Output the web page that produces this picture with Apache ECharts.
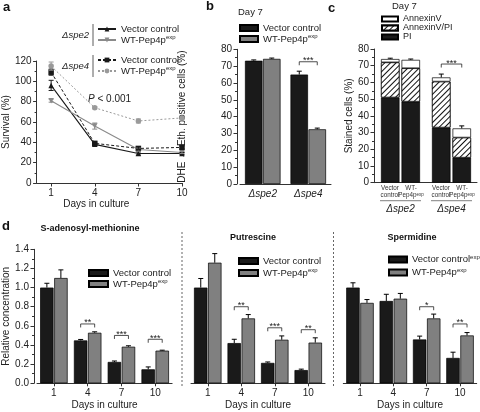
<!DOCTYPE html>
<html><head><meta charset="utf-8">
<script src="https://cdn.jsdelivr.net/npm/echarts@6/dist/echarts.min.js"></script>
<style>html,body{margin:0;padding:0;background:#fff}#c{width:480px;height:412px}</style>
</head><body><div id="c"></div><script>
// ---------- DATA ----------
// Panel a: survival (%) vs days in culture
const days = [1, 4, 7, 10];
const survSpe2Vc = [96, 38, 29, 29];
const survSpe2VcErr = [5, 1.5, 1.5, 1];
const survSpe2Wt = [81, 56, 33, 30];
const survSpe2WtErr = [1.5, 3, 1.5, 1];
const survSpe4Vc = [109, 39, 34, 35];
const survSpe4VcErr = [3, 1.5, 1.5, 1.5];
const survSpe4Wt = [115, 74, 61, 64];
const survSpe4WtErr = [4, 1, 2, 1.5];
const survTicks = [1, 4, 7, 10];

// Panel b: DHE -> Eth positive cells, day 7
const strainCats = ['Δspe2', 'Δspe4'];
const dheVc = [73.2, 65];
const dheVcErr = [0.5, 2];
const dheWt = [74.3, 32.5];
const dheWtErr = [0.5, 0.7];
const dheSig = ['', '***'];
const dheSigTop = [0, 72.6];

// Panel c: stained cells, day 7 (per strain: vector control, WT-Pep4p)
const stainVcPI = [51, 33];
const stainVcAVPI = [21, 27.5];
const stainVcAV = [2, 2.5];
const stainVcErr = [0.5, 2];
const stainWtPI = [48.5, 15];
const stainWtAVPI = [20, 12];
const stainWtAV = [5, 5.5];
const stainWtErr = [0.5, 1.5];
const stainSig = ['', '***'];
const stainSigTop = [0, 71];
const stainBarLabels = ['Vector\ncontrol', 'WT-\nPep4p{sup|exp}', 'Vector\ncontrol', 'WT-\nPep4p{sup|exp}'];
const stainBarGroup = [0, 0, 1, 1];

// Panel d: relative concentrations
const dayCats = ['1', '4', '7', '10'];
const samVc = [1.0, 0.448, 0.223, 0.146];
const samVcErr = [0.045, 0.01, 0.01, 0.025];
const samWt = [1.10, 0.528, 0.382, 0.341];
const samWtErr = [0.085, 0.01, 0.01, 0.005];
const samSig = ['', '**', '***', '***'];
const samSigTop = [0, 0.62, 0.50, 0.46];

const putVc = [1.0, 0.42, 0.213, 0.138];
const putVcErr = [0.095, 0.04, 0.01, 0.01];
const putWt = [1.26, 0.678, 0.455, 0.425];
const putWtErr = [0.095, 0.04, 0.04, 0.05];
const putSig = ['', '**', '***', '**'];
const putSigTop = [0, 0.80, 0.58, 0.56];

const sperVc = [1.0, 0.86, 0.458, 0.265];
const sperVcErr = [0.05, 0.07, 0.035, 0.06];
const sperWt = [0.84, 0.884, 0.678, 0.5];
const sperWtErr = [0.035, 0.055, 0.045, 0.03];
const sperSig = ['', '', '*', '**'];
const sperSigTop = [0, 0, 0.80, 0.62];

// ---------- STYLE ----------
const FONT = '"Liberation Sans", Arial, Helvetica, sans-serif';
const BLACK = '#1a1a1a', GRAY = '#808080', AX = '#333', TXT = '#222';
const LGRAY = '#8a8a8a', LGRAY2 = '#9a9a9a';
const rich = {
  t: {fontSize: 9.5, fontFamily: FONT, color: TXT},
  sup: {fontSize: 6, fontFamily: FONT, color: TXT, verticalAlign: 'top'}
};
const legendLabels = {
  s2vc: '{t|Vector control}', s2wt: '{t|WT-Pep4p}{sup|exp}',
  s4vc: '{t|Vector control}', s4wt: '{t|WT-Pep4p}{sup|exp}',
  bVc: '{t|Vector control}', bWt: '{t|WT-Pep4p}{sup|exp}',
  samVc: '{t|Vector control}', samWt: '{t|WT-Pep4p}{sup|exp}',
  putVc: '{t|Vector control}', putWt: '{t|WT-Pep4p}{sup|exp}',
  sperVc: '{t|Vector control}{sup|exp}', sperWt: '{t|WT-Pep4p}{sup|exp}',
  AnnexinV: '{t|AnnexinV}', 'AnnexinV/PI': '{t|AnnexinV/PI}', PI: '{t|PI}'
};
const idx4 = [0, 1, 2, 3], idx2 = [0, 1];

function zip(xs, ys) { return ys.map((v, i) => [xs[i], v]); }

function errS(ai, xs, vals, errs, off, color, two) {
  return {
    type: 'custom', xAxisIndex: ai, yAxisIndex: ai, z: 6, silent: true, clip: false,
    data: vals.map((v, i) => [xs[i], v, errs[i]]),
    encode: {x: 0, y: 1},
    renderItem(params, api) {
      const x0 = api.value(0), v = api.value(1), e = api.value(2);
      const p = api.coord([x0, v]), pt = api.coord([x0, v + e]);
      const pb = two ? api.coord([x0, v - e]) : p;
      const x = p[0] + off, cw = 2.5;
      const st = {stroke: color, lineWidth: 1};
      const ch = [
        {type: 'line', shape: {x1: x, y1: pb[1], x2: x, y2: pt[1]}, style: st},
        {type: 'line', shape: {x1: x - cw, y1: pt[1], x2: x + cw, y2: pt[1]}, style: st}
      ];
      if (two) ch.push({type: 'line', shape: {x1: x - cw, y1: pb[1], x2: x + cw, y2: pb[1]}, style: st});
      return {type: 'group', children: ch};
    }
  };
}

function sigS(ai, tops, labels, off) {
  const ids = labels.map((l, i) => l ? i : -1).filter(i => i >= 0);
  return {
    type: 'custom', xAxisIndex: ai, yAxisIndex: ai, z: 6, silent: true, clip: false,
    data: ids.map(i => [i, tops[i]]),
    encode: {x: 0, y: 1},
    renderItem(params, api) {
      const i = ids[params.dataIndex];
      const p = api.coord([api.value(0), api.value(1)]);
      const x1 = p[0] - off, x2 = p[0] + off, y = p[1], tk = 3.5;
      return {type: 'group', children: [
        {type: 'polyline', shape: {points: [[x1, y + tk], [x1, y], [x2, y], [x2, y + tk]]},
          style: {stroke: '#222', lineWidth: 0.8, fill: null}},
        {type: 'text', style: {text: labels[i], x: (x1 + x2) / 2, y: y + 3.5, align: 'center',
          verticalAlign: 'bottom', fontSize: 9, fontFamily: FONT, fill: '#222'}}
      ]};
    }
  };
}

function barS(name, ai, vals, color, w, gap, extra) {
  return Object.assign({
    type: 'bar', name, xAxisIndex: ai, yAxisIndex: ai, data: vals, barWidth: w, barGap: gap,
    itemStyle: {color, borderColor: '#000', borderWidth: 0.7}, emphasis: {disabled: true}
  }, extra || {});
}

function lineS(name, vals, color, symbol, dash, w) {
  return {
    type: 'line', name, xAxisIndex: 0, yAxisIndex: 0, data: zip(days, vals),
    symbol, symbolSize: 5.5,
    lineStyle: {color, width: w || 1, type: dash || 'solid'},
    itemStyle: {color}, emphasis: {disabled: true}, z: 4
  };
}

const axLine = {show: true, lineStyle: {color: AX, width: 1}};
const lblStyle = {fontSize: 10, color: TXT, fontFamily: FONT};
function yAx(gi, max, interval, extra) {
  return Object.assign({
    gridIndex: gi, type: 'value', min: 0, max, interval,
    axisLine: axLine, axisTick: {show: true, length: 3.5, lineStyle: {color: AX}},
    minorTick: {show: true, splitNumber: 2, length: 2, lineStyle: {color: AX}},
    splitLine: {show: false}, axisLabel: Object.assign({margin: 5}, lblStyle),
    nameLocation: 'middle', nameTextStyle: {fontSize: 10, color: TXT, fontFamily: FONT}
  }, extra || {});
}
function legend(items, left, top, gap, extra) {
  return Object.assign({
    data: items, left, top, orient: 'vertical', padding: 0, itemGap: gap,
    itemWidth: 18, itemHeight: 6, selectedMode: false,
    formatter: n => legendLabels[n],
    textStyle: {rich, lineHeight: 11, fontSize: 9.5, fontFamily: FONT, color: TXT}
  }, extra || {});
}

const hatch = {
  color: '#fff', borderColor: '#000', borderWidth: 0.7,
  decal: {symbol: 'rect', symbolSize: 1, dashArrayX: [1, 0], dashArrayY: [0.8, 2.6],
    rotation: -Math.PI / 4, color: '#111', backgroundColor: '#fff'}
};

const option = {
  animation: false,
  textStyle: {fontFamily: FONT},
  grid: [
    {left: 33, top: 61, width: 149, height: 122},
    {left: 240, top: 49.3, width: 91, height: 134.7},
    {left: 375, top: 49, width: 102, height: 133.7},
    {left: 36.5, top: 249.3, width: 135.6, height: 134},
    {left: 191, top: 249.3, width: 134, height: 134},
    {left: 343.3, top: 249.3, width: 133.4, height: 134}
  ],
  xAxis: [
    {gridIndex: 0, type: 'value', min: 0, max: 10, axisLine: axLine,
      axisTick: {show: true, length: 3.5, customValues: survTicks, lineStyle: {color: AX}},
      axisLabel: Object.assign({margin: 5, customValues: survTicks}, lblStyle),
      splitLine: {show: false}, name: 'Days in culture', nameLocation: 'middle', nameGap: 15,
      nameTextStyle: {fontSize: 10, color: TXT, fontFamily: FONT, padding: [0, 26, 0, 0]}},
    {gridIndex: 1, type: 'category', data: strainCats, axisLine: axLine, axisTick: {show: false},
      axisLabel: Object.assign({margin: 5, fontStyle: 'italic'}, lblStyle)},
    {gridIndex: 2, type: 'category', data: strainCats, axisLine: axLine, axisTick: {show: false},
      axisLabel: Object.assign({margin: 22, fontStyle: 'italic'}, lblStyle)},
    {gridIndex: 3, type: 'category', data: dayCats, axisLine: axLine,
      axisTick: {show: true, alignWithLabel: true, length: 3, lineStyle: {color: AX}},
      axisLabel: Object.assign({margin: 5}, lblStyle),
      name: 'Days in culture', nameLocation: 'middle', nameGap: 17,
      nameTextStyle: {fontSize: 10, color: TXT, fontFamily: FONT}},
    {gridIndex: 4, type: 'category', data: dayCats, axisLine: axLine,
      axisTick: {show: true, alignWithLabel: true, length: 3, lineStyle: {color: AX}},
      axisLabel: Object.assign({margin: 5}, lblStyle),
      name: 'Days in culture', nameLocation: 'middle', nameGap: 17,
      nameTextStyle: {fontSize: 10, color: TXT, fontFamily: FONT}},
    {gridIndex: 5, type: 'category', data: dayCats, axisLine: axLine,
      axisTick: {show: true, alignWithLabel: true, length: 3, lineStyle: {color: AX}},
      axisLabel: Object.assign({margin: 5}, lblStyle),
      name: 'Days in culture', nameLocation: 'middle', nameGap: 17,
      nameTextStyle: {fontSize: 10, color: TXT, fontFamily: FONT}}
  ],
  yAxis: [
    yAx(0, 120, 20, {name: 'Survival (%)', nameGap: 22}),
    yAx(1, 80, 10, {offset: 3, name: 'DHE \u2192 Eth. positive cells (%)', nameGap: 50}),
    yAx(2, 80, 10, {offset: 1, name: 'Stained cells (%)', nameGap: 20}),
    yAx(3, 1.4, 0.2, {offset: 3, name: 'Relative concentration', nameGap: 23,
      axisLabel: Object.assign({margin: 5, formatter: v => v.toFixed(1)}, lblStyle)}),
    {gridIndex: 4, type: 'value', min: 0, max: 1.4, show: false, splitLine: {show: false}},
    {gridIndex: 5, type: 'value', min: 0, max: 1.4, show: false, splitLine: {show: false}}
  ],
  legend: [
    legend(['s2vc', 's2wt'], 97, 23.5, 0),
    legend(['s4vc', 's4wt'], 97, 54.5, 0),
    legend(['bVc', 'bWt'], 239, 22.5, 0, {icon: 'rect'}),
    legend(['AnnexinV', 'AnnexinV/PI', 'PI'], 381, 14.5, 0, {icon: 'rect', itemWidth: 16, itemHeight: 5,
      textStyle: {rich: {t: {fontSize: 9, fontFamily: FONT, color: TXT}}, lineHeight: 8, fontSize: 9}}),
    legend(['samVc', 'samWt'], 88, 267.5, 0, {icon: 'rect', itemWidth: 19}),
    legend(['putVc', 'putWt'], 238, 255.5, 1, {icon: 'rect', itemWidth: 19}),
    legend(['sperVc', 'sperWt'], 388, 254, 2, {icon: 'rect', itemWidth: 18})
  ],
  series: [
    // panel a
    lineS('s2vc', survSpe2Vc, BLACK, 'triangle', 'solid', 1.1),
    lineS('s2wt', survSpe2Wt, LGRAY, 'path://M0,0L10,0L5,9Z', 'solid', 1.1),
    lineS('s4vc', survSpe4Vc, BLACK, 'rect', [3, 2], 1),
    lineS('s4wt', survSpe4Wt, LGRAY2, 'circle', [2, 2], 1),
    errS(0, days, survSpe2Vc, survSpe2VcErr, 0, BLACK, true),
    errS(0, days, survSpe2Wt, survSpe2WtErr, 0, LGRAY, true),
    errS(0, days, survSpe4Vc, survSpe4VcErr, 0, BLACK, true),
    errS(0, days, survSpe4Wt, survSpe4WtErr, 0, LGRAY2, true),
    // panel b
    barS('bVc', 1, dheVc, BLACK, 17.5, '3%'),
    barS('bWt', 1, dheWt, GRAY, 17.5, '3%'),
    errS(1, idx2, dheVc, dheVcErr, -9, '#000', false),
    errS(1, idx2, dheWt, dheWtErr, 9, '#000', false),
    sigS(1, dheSigTop, dheSig, 9),
    // panel c
    barS('PI', 2, stainVcPI, BLACK, 18.5, '11%', {stack: 'vc'}),
    barS('AnnexinV/PI', 2, stainVcAVPI, '#fff', 18.5, '11%', {stack: 'vc', itemStyle: hatch}),
    barS('AnnexinV', 2, stainVcAV, '#fff', 18.5, '11%', {stack: 'vc'}),
    barS('PI', 2, stainWtPI, BLACK, 18.5, '11%', {stack: 'wt'}),
    barS('AnnexinV/PI', 2, stainWtAVPI, '#fff', 18.5, '11%', {stack: 'wt', itemStyle: hatch}),
    barS('AnnexinV', 2, stainWtAV, '#fff', 18.5, '11%', {stack: 'wt'}),
    errS(2, idx2, stainVcPI.map((v, i) => v + stainVcAVPI[i] + stainVcAV[i]), stainVcErr, -10.25, '#000', false),
    errS(2, idx2, stainWtPI.map((v, i) => v + stainWtAVPI[i] + stainWtAV[i]), stainWtErr, 10.25, '#000', false),
    sigS(2, stainSigTop, stainSig, 10.25),
    {
      type: 'custom', xAxisIndex: 2, yAxisIndex: 2, silent: true, clip: false, z: 6,
      data: stainBarGroup.map(g => [g, 0]), encode: {x: 0, y: 1},
      renderItem(params, api) {
        const i = params.dataIndex;
        const p = api.coord([api.value(0), 0]);
        const x = p[0] + (i % 2 ? 10.5 : -10.5);
        const ch = [{type: 'text', style: {text: stainBarLabels[i], x, y: p[1] + 2.5, align: 'center',
          verticalAlign: 'top', fontSize: 6.3, lineHeight: 7, fontFamily: FONT, fill: '#333',
          rich: {sup: {fontSize: 4.5, fontFamily: FONT, fill: '#333', verticalAlign: 'top', lineHeight: 7}}}}];
        if (i % 2 === 0) ch.push({type: 'line', shape: {x1: p[0] - 20.5, y1: p[1] + 18, x2: p[0] + 20.5, y2: p[1] + 18},
          style: {stroke: '#999', lineWidth: 1.3}});
        return {type: 'group', children: ch};
      }
    },
    // panel d1
    barS('samVc', 3, samVc, BLACK, 13.4, '5%'),
    barS('samWt', 3, samWt, GRAY, 13.4, '5%'),
    errS(3, idx4, samVc, samVcErr, -7, '#000', false),
    errS(3, idx4, samWt, samWtErr, 7, '#000', false),
    sigS(3, samSigTop, samSig, 7),
    // panel d2
    barS('putVc', 4, putVc, BLACK, 13.4, '5%'),
    barS('putWt', 4, putWt, GRAY, 13.4, '5%'),
    errS(4, idx4, putVc, putVcErr, -7, '#000', false),
    errS(4, idx4, putWt, putWtErr, 7, '#000', false),
    sigS(4, putSigTop, putSig, 7),
    // panel d3
    barS('sperVc', 5, sperVc, BLACK, 13.4, '5%'),
    barS('sperWt', 5, sperWt, GRAY, 13.4, '5%'),
    errS(5, idx4, sperVc, sperVcErr, -7, '#000', false),
    errS(5, idx4, sperWt, sperWtErr, 7, '#000', false),
    sigS(5, sperSigTop, sperSig, 7)
  ],
  graphic: [
    {type: 'text', x: 3, y: 1, style: {text: 'a', fontSize: 13, fontWeight: 'bold', fontFamily: FONT, fill: '#111'}},
    {type: 'text', x: 206, y: 0, style: {text: 'b', fontSize: 13, fontWeight: 'bold', fontFamily: FONT, fill: '#111'}},
    {type: 'text', x: 328, y: 2, style: {text: 'c', fontSize: 13, fontWeight: 'bold', fontFamily: FONT, fill: '#111'}},
    {type: 'text', x: 2, y: 220, style: {text: 'd', fontSize: 13, fontWeight: 'bold', fontFamily: FONT, fill: '#111'}},
    {type: 'text', x: 238, y: 7, style: {text: 'Day 7', fontSize: 9.5, fontFamily: FONT, fill: TXT}},
    {type: 'text', x: 392, y: 1.5, style: {text: 'Day 7', fontSize: 9.5, fontFamily: FONT, fill: TXT}},
    {type: 'text', x: 88, y: 94, style: {text: '{i|P} < 0.001', fontSize: 10, fontFamily: FONT, fill: TXT,
      rich: {i: {fontStyle: 'italic', fontSize: 10, fontFamily: FONT, fill: TXT}}}},
    {type: 'text', x: 89, y: 35, style: {text: 'Δspe2', align: 'right', verticalAlign: 'middle', fontStyle: 'italic', fontSize: 9.5, fontFamily: FONT, fill: TXT}},
    {type: 'text', x: 89, y: 66, style: {text: 'Δspe4', align: 'right', verticalAlign: 'middle', fontStyle: 'italic', fontSize: 9.5, fontFamily: FONT, fill: TXT}},
    {type: 'line', shape: {x1: 93, y1: 24, x2: 93, y2: 46}, style: {stroke: '#333', lineWidth: 0.8}},
    {type: 'line', shape: {x1: 93, y1: 55, x2: 93, y2: 77}, style: {stroke: '#333', lineWidth: 0.8}},
    {type: 'text', x: 90, y: 229, style: {text: 'S-adenosyl-methionine', align: 'center', verticalAlign: 'middle', fontSize: 9, fontWeight: 'bold', fontFamily: FONT, fill: '#111'}},
    {type: 'text', x: 253, y: 238, style: {text: 'Putrescine', align: 'center', verticalAlign: 'middle', fontSize: 9, fontWeight: 'bold', fontFamily: FONT, fill: '#111'}},
    {type: 'text', x: 412, y: 238, style: {text: 'Spermidine', align: 'center', verticalAlign: 'middle', fontSize: 9, fontWeight: 'bold', fontFamily: FONT, fill: '#111'}},
    {type: 'line', shape: {x1: 182, y1: 232, x2: 182, y2: 386}, style: {stroke: '#666', lineWidth: 1, lineDash: [2, 2]}},
    {type: 'line', shape: {x1: 333.5, y1: 232, x2: 333.5, y2: 386}, style: {stroke: '#666', lineWidth: 1, lineDash: [2, 2]}}
  ]
};
const chart = echarts.init(document.getElementById('c'), null, {renderer: 'canvas'});
chart.setOption(option);
</script></body></html>
